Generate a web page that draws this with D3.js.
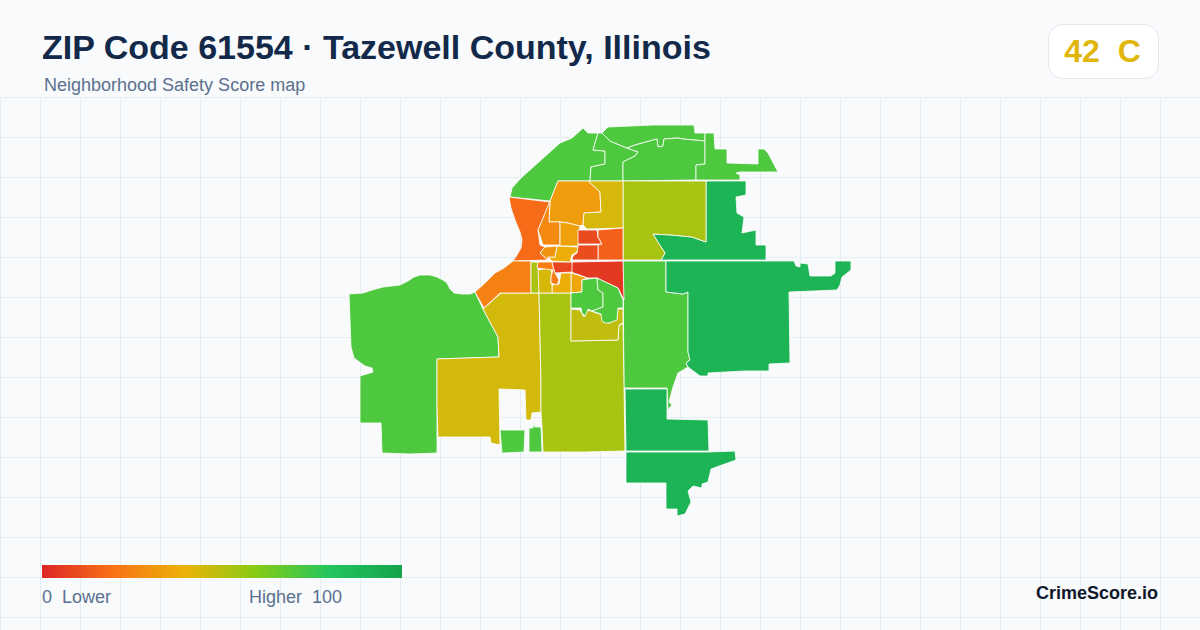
<!DOCTYPE html>
<html>
<head>
<meta charset="utf-8">
<script src="https://cdn.jsdelivr.net/npm/d3@7"></script>
<style>
  html, body { margin: 0; padding: 0; background: #f8fafc; }
  svg { display: block; font-family: "Liberation Sans", Arial, sans-serif; }
</style>
</head>
<body>
<svg id="chart" width="1200" height="630"></svg>
<script>
// Header and legend text
var titleText = "ZIP Code 61554 · Tazewell County, Illinois";
var subtitleText = "Neighborhood Safety Score map";
var gradeText = "42  C";
var legendLow = "0  Lower";
var legendHigh = "Higher  100";
var brandText = "CrimeScore.io";

// Colour ramp of the score
var rampStops = [0, 20, 40, 60, 80, 100];
var rampColors = ["#dc2626", "#f97316", "#eab308", "#84cc16", "#22c55e", "#16a34a"];

// Score of each tract
var tractScores = [
  71, 71, 71, 71, 71, 90, 53, 71, 90, 90, 90,
  71, 44.5, 53, 48, 71, 71, 36, 38,
  5, 8, 18, 24.5, 53, 44, 23,
  33, 44, 27, 34.5, 9.5, 15, 10, 38, 30, 71, 71
];

// Tract outlines in map grid units, same order as tractScores
var tractRings = [
  [[510,197],[512,188],[521,178],[560,143],[572,138],[583,128],[588,133],[598,133],[593,150],[605,151],[605,164],[591,167],[590,181],[558,181],[550,201]],
  [[598,133],[602,133],[610,141],[627,148],[638,152],[635,156],[623,162],[623,181],[590,181],[591,167],[605,164],[605,151],[593,150]],
  [[602,133],[608,127],[653,125],[694,125],[695,133],[705,133],[705,141],[683,139],[678,138],[664,139],[663,146],[658,147],[657,139],[635,145],[627,148],[610,141]],
  [[627,148],[635,145],[657,139],[658,147],[663,146],[664,139],[678,138],[683,139],[705,141],[705,164],[696,165],[696,180],[623,181],[623,162],[635,156],[638,152]],
  [[705,133],[714,133],[715,149],[727,149],[727,163],[758,164],[758,149],[764,149],[768,153],[778,172],[740,172],[736,173],[740,175],[740,180],[696,180],[696,165],[705,164]],
  [[706,181],[746,181],[746,195],[736,197],[737,213],[744,217],[742,233],[756,230],[756,245],[766,245],[766,260],[661,260],[665,253],[659,244],[653,234],[672,235],[692,237],[706,242]],
  [[623,181],[706,181],[706,242],[692,237],[672,235],[653,234],[659,244],[665,253],[661,260],[623,260]],
  [[623,261],[666,261],[666,292],[683,294],[688,292],[688,352],[690,360],[686,363],[688,367],[678,373],[673,387],[669,402],[672,405],[668,410],[667,388],[624,388]],
  [[666,261],[794,261],[796,266],[800,267],[800,263],[808,264],[810,276],[831,276],[835,273],[835,261],[851,261],[851,270],[842,277],[840,285],[837,290],[813,291],[789,292],[790,363],[769,364],[769,371],[744,371],[708,373],[708,376],[700,376],[688,367],[686,363],[690,360],[688,352],[688,292],[683,294],[666,292]],
  [[625,389],[667,389],[667,419],[708,420],[709,451],[626,451]],
  [[626,452],[709,452],[735,451],[736,460],[722,465],[711,469],[708,482],[702,484],[702,488],[693,486],[688,491],[691,502],[685,514],[677,516],[677,509],[666,509],[666,483],[626,483]],
  [[349,294],[363,293],[372,290],[383,287],[400,285],[408,281],[414,277],[420,275],[430,275],[437,277],[443,280],[447,283],[450,289],[454,293],[462,294],[470,294],[475,292],[483,309],[498,337],[499,357],[467,358],[437,359],[437,406],[437,453],[410,454],[382,453],[381,423],[360,423],[360,376],[373,372],[372,368],[365,366],[354,358],[351,347]],
  [[437,359],[467,358],[499,357],[498,337],[483,309],[501,293],[539,293],[541,383],[541,412],[532,413],[531,420],[526,420],[525,390],[499,389],[500,445],[491,443],[490,437],[438,437],[437,406]],
  [[539,293],[571,293],[571,341],[618,340],[619,325],[623,324],[624,387],[625,451],[585,452],[543,452],[542,427],[541,412],[541,383]],
  [[571,309],[580,310],[584,317],[588,310],[602,315],[603,322],[610,323],[617,318],[618,309],[623,309],[623,323],[619,325],[618,340],[571,341]],
  [[500,430],[525,430],[524,452],[502,453]],
  [[529,428],[533,428],[534,422],[535,427],[541,427],[542,452],[529,452]],
  [[571,293],[571,273],[588,278],[582,280],[582,292]],
  [[552,293],[552,285],[559,284],[561,273],[571,273],[571,293]],
  [[572,262],[623,261],[624,300],[618,288],[597,278],[588,278],[571,272]],
  [[552,262],[572,262],[572,272],[555,273],[553,267]],
  [[509,197],[550,202],[538,230],[540,245],[545,247],[540,253],[548,260],[513,261],[517,255],[521,248],[522,240],[520,232],[515,220],[511,208]],
  [[513,261],[531,261],[531,293],[500,293],[484,308],[475,292],[485,283],[495,273],[504,268]],
  [[531,262],[538,262],[538,270],[539,270],[539,293],[531,293]],
  [[538,270],[550,268],[552,273],[551,277],[551,283],[552,285],[552,293],[539,293]],
  [[538,262],[552,262],[553,267],[555,273],[559,280],[557,285],[551,283],[551,277],[553,270],[537,268]],
  [[558,181],[588,181],[600,192],[601,212],[584,213],[583,225],[579,226],[568,223],[560,222],[549,222],[550,201]],
  [[588,181],[623,181],[623,228],[587,229],[583,225],[584,213],[601,212],[600,192]],
  [[550,201],[549,222],[560,222],[560,245],[543,245],[538,230]],
  [[560,222],[568,223],[580,226],[578,246],[560,246]],
  [[578,230],[597,230],[598,237],[602,244],[578,244]],
  [[598,230],[623,228],[623,260],[598,260],[598,245],[602,244],[598,237]],
  [[578,245],[598,245],[598,260],[573,260],[572,258],[574,255],[577,253]],
  [[557,246],[578,247],[577,252],[572,255],[570,262],[552,261],[548,257],[555,257]],
  [[540,253],[545,247],[557,246],[555,257],[548,257],[548,260]],
  [[571,293],[582,292],[582,280],[588,279],[597,278],[598,290],[603,293],[603,307],[592,311],[588,309],[587,312],[585,316],[582,313],[581,308],[571,308]],
  [[597,278],[618,288],[623,300],[623,308],[618,308],[617,320],[609,323],[605,323],[602,321],[601,314],[592,311],[603,307],[603,293],[598,290]]
];

var width = 1200, height = 630;
var svg = d3.select("#chart");

var color = d3.scaleLinear().domain(rampStops).range(rampColors);

// Map grid units to screen
var x = d3.scaleLinear().domain([340, 860]).range([340, 860]);
var y = d3.scaleLinear().domain([120, 520]).range([120, 520]);

// Background grid below the header
var gridX = d3.range(0, width + 1, 40);
var gridY = d3.range(97, height, 40);

var grid = svg.append("g").attr("stroke", "#e4edf2").attr("stroke-width", 1);

grid.selectAll("line.v").data(gridX).enter().append("line")
  .attr("class", "v")
  .attr("x1", function(d) { return d + 0.5; })
  .attr("x2", function(d) { return d + 0.5; })
  .attr("y1", 97)
  .attr("y2", height);

grid.selectAll("line.h").data(gridY).enter().append("line")
  .attr("class", "h")
  .attr("x1", 0)
  .attr("x2", width)
  .attr("y1", function(d) { return d + 0.5; })
  .attr("y2", function(d) { return d + 0.5; });

// Tracts
var outline = d3.line()
  .x(function(d) { return x(d[0]); })
  .y(function(d) { return y(d[1]); })
  .curve(d3.curveLinearClosed);

svg.append("g").selectAll("path")
  .data(tractRings)
  .enter()
  .append("path")
  .attr("d", outline)
  .attr("fill", function(d, i) { return color(tractScores[i]); })
  .attr("stroke", "#ffffff")
  .attr("stroke-width", 0.9)
  .attr("stroke-opacity", 0.9)
  .attr("stroke-linejoin", "round");

// Header
svg.append("text")
  .attr("x", 42).attr("y", 59)
  .attr("font-size", 34).attr("font-weight", 700)
  .attr("fill", "#13294a")
  .text(titleText);

svg.append("text")
  .attr("x", 44).attr("y", 91)
  .attr("font-size", 18)
  .attr("fill", "#5b708e")
  .text(subtitleText);

// Grade badge
svg.append("rect")
  .attr("x", 1048.5).attr("y", 24.5)
  .attr("width", 110).attr("height", 54)
  .attr("rx", 14)
  .attr("fill", "#ffffff")
  .attr("stroke", "#e2e8f0");

svg.append("text")
  .attr("x", 1102.5).attr("y", 62)
  .attr("text-anchor", "middle")
  .attr("font-size", 32).attr("font-weight", 700)
  .attr("fill", color(42))
  .style("white-space", "pre")
  .text(gradeText);

// Legend
var gradient = svg.append("defs").append("linearGradient").attr("id", "ramp");

gradient.selectAll("stop")
  .data(rampStops)
  .enter()
  .append("stop")
  .attr("offset", function(d) { return d + "%"; })
  .attr("stop-color", function(d) { return color(d); });

svg.append("rect")
  .attr("x", 42).attr("y", 565)
  .attr("width", 360).attr("height", 13)
  .attr("fill", "url(#ramp)");

svg.append("text")
  .attr("x", 42).attr("y", 603)
  .attr("font-size", 18)
  .attr("fill", "#5b708e")
  .style("white-space", "pre")
  .text(legendLow);

svg.append("text")
  .attr("x", 249).attr("y", 603)
  .attr("font-size", 18)
  .attr("fill", "#5b708e")
  .style("white-space", "pre")
  .text(legendHigh);

svg.append("text")
  .attr("x", 1158).attr("y", 599)
  .attr("text-anchor", "end")
  .attr("font-size", 18).attr("font-weight", 700)
  .attr("fill", "#0f172a")
  .text(brandText);
</script>
</body>
</html>
